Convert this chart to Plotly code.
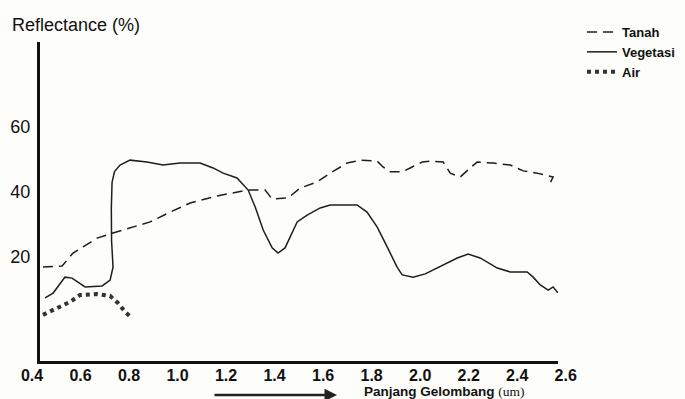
import plotly.graph_objects as go

# ---------------- data ----------------
tanah_x = [0.445, 0.524, 0.569, 0.668, 0.734, 0.804, 0.887, 0.969, 1.052, 1.163, 1.291,
           1.361, 1.390, 1.456, 1.505, 1.575, 1.629, 1.699, 1.753, 1.823, 1.847, 1.876,
           1.926, 1.967, 2.008, 2.041, 2.095, 2.124, 2.165, 2.206, 2.235, 2.301, 2.371,
           2.425, 2.482, 2.548, 2.536]
tanah_y = [16.9, 17.2, 21.2, 25.8, 27.4, 28.9, 30.8, 33.8, 36.6, 38.8, 40.6,
           40.6, 37.8, 38.2, 41.2, 43.1, 45.8, 48.9, 49.8, 49.5, 47.7, 46.2,
           46.2, 47.7, 49.2, 49.5, 49.2, 45.8, 44.6, 47.4, 49.2, 48.9, 48.3,
           46.5, 45.8, 44.6, 42.8]

veg_x = [0.454, 0.487, 0.536, 0.565, 0.619, 0.689, 0.722, 0.734, 0.728, 0.727, 0.730,
         0.740, 0.763, 0.804, 0.874, 0.940, 1.010, 1.093, 1.146, 1.188, 1.245, 1.291,
         1.320, 1.353, 1.390, 1.414, 1.443, 1.472, 1.493, 1.534, 1.588, 1.629, 1.740,
         1.781, 1.823, 1.864, 1.905, 1.926, 1.971, 2.021, 2.095, 2.153, 2.198, 2.247,
         2.318, 2.371, 2.441, 2.466, 2.495, 2.528, 2.548, 2.565, 2.577]
veg_y = [7.4, 8.9, 13.8, 13.5, 10.8, 11.1, 12.9, 16.9, 25.0, 35.0, 43.0,
         46.3, 48.3, 49.8, 49.2, 48.3, 48.9, 48.9, 47.4, 45.8, 44.3, 40.6,
         35.4, 28.3, 22.8, 21.2, 22.8, 27.4, 30.8, 32.9, 35.1, 36.0, 36.0,
         33.8, 29.2, 23.1, 16.9, 14.5, 13.8, 14.8, 17.5, 19.7, 20.9, 19.7,
         16.6, 15.4, 15.4, 13.8, 11.4, 9.8, 10.8, 9.2, 8.9]

air_x = [0.445, 0.503, 0.557, 0.598, 0.668, 0.722, 0.755, 0.784, 0.812]
air_y = [2.2, 4.3, 6.2, 8.3, 8.6, 8.0, 5.8, 3.1, 1.2]

x_ticks = [0.4, 0.6, 0.8, 1.0, 1.2, 1.4, 1.6, 1.8, 2.0, 2.2, 2.4, 2.6]
x_ticklabels = ["0.4", "0.6", "0.8", "1.0", "1.2", "1.4", "1.6", "1.8", "2.0", "2.2", "2.4", "2.6"]
y_ticks = [20, 40, 60]
y_ticklabels = ["20", "40", "60"]

# ---------------- layout geometry ----------------
W, H = 685, 399
PL, PR = 20, 578          # plot area (label axis) in px
PT, PB = 42, 361          # plot area top / bottom in px
AX_L, AX_R = 40, 558      # drawn axis line extent in px
PX_PER_UNIT = 242.6
X0_VAL, X0_PX = 0.4, 32   # 0.4 label position

def xval(px):
    return X0_VAL + (px - X0_PX) / PX_PER_UNIT

pw = PR - PL
ph = PB - PT
FONT = "Liberation Sans, Arial, sans-serif"
INK = "#1e1e1e"

def fx(px):
    return (px - PL) / pw

def fy(py):
    return (PB - py) / ph

fig = go.Figure()
fig.add_trace(go.Scatter(x=tanah_x, y=tanah_y, mode="lines", name="Tanah",
                         line=dict(color=INK, width=1.5, dash="10px,6px")))
fig.add_trace(go.Scatter(x=veg_x, y=veg_y, mode="lines", name="Vegetasi",
                         line=dict(color=INK, width=1.5)))
fig.add_trace(go.Scatter(x=air_x, y=air_y, mode="lines", name="Air",
                         line=dict(color="#333333", width=4, dash="4px,4px")))
# carrier for the tick-label axis
fig.add_trace(go.Scatter(x=[], y=[], xaxis="x2", yaxis="y", showlegend=False,
                         hoverinfo="skip"))

fig.update_layout(
    width=W, height=H,
    margin=dict(l=PL, r=W - PR, t=PT, b=H - PB, pad=0, autoexpand=False),
    paper_bgcolor="#fdfdf9",
    plot_bgcolor="rgba(0,0,0,0)",
    font=dict(family=FONT, color="#111111"),
    title=dict(text="Reflectance (%)", x=12 / W, xref="container", xanchor="left",
               y=1 - 25 / H, yref="container", yanchor="middle",
               font=dict(size=18, family=FONT, color="#111111")),
    xaxis=dict(domain=[fx(AX_L), fx(AX_R)], range=[xval(AX_L), xval(AX_R)],
               showline=True, linewidth=3, linecolor="#111111", showgrid=False,
               zeroline=False, showticklabels=False, ticks=""),
    xaxis2=dict(domain=[0, 1], range=[xval(PL), xval(PR)], anchor="y",
                showline=False, showgrid=False, zeroline=False, ticks="",
                tickmode="array", tickvals=x_ticks, ticktext=x_ticklabels,
                ticklabelstandoff=3,
                tickfont=dict(size=16, family=FONT, weight="bold", color="#111111")),
    yaxis=dict(domain=[0, 1], range=[-12, 86.15], anchor="x",
               showline=True, linewidth=3, linecolor="#111111", showgrid=False,
               zeroline=False, ticks="", tickmode="array", tickvals=y_ticks,
               ticktext=y_ticklabels, ticklabelstandoff=3,
               tickfont=dict(size=18, family=FONT, color="#111111")),
    legend=dict(x=582 / W, y=1 - 17 / H, xref="container", yref="container",
                xanchor="left", yanchor="top",
                bgcolor="rgba(0,0,0,0)", tracegroupgap=0,
                font=dict(size=13, family=FONT, weight="bold", color="#111111")),
    showlegend=True,
)

fig.add_annotation(xref="paper", yref="paper", x=fx(363), y=fy(391),
                   xanchor="left", yanchor="middle", showarrow=False, borderpad=0,
                   text="<b>Panjang Gelombang</b> <span style='font-family:Liberation Serif,Times New Roman,serif'>(um)</span>",
                   font=dict(size=13.5, family=FONT, color="#111111"))
fig.add_annotation(xref="paper", yref="paper", x=fx(337), y=fy(395),
                   axref="pixel", ayref="pixel", ax=-124, ay=0, text="",
                   showarrow=True, arrowhead=2, arrowsize=1, arrowwidth=2.5,
                   arrowcolor="#222222")

fig.write_html("out.html", config={"displayModeBar": False},
               post_script="document.body.style.margin='0';document.body.style.padding='0';")
